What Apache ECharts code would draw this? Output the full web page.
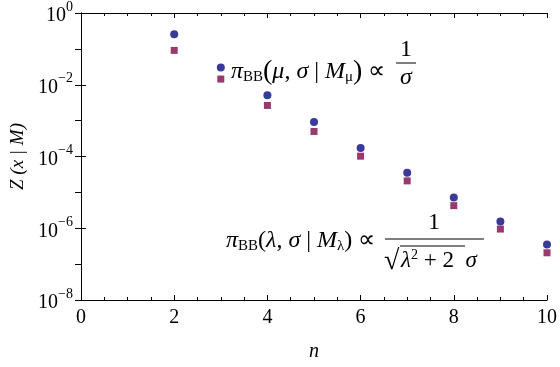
<!DOCTYPE html>
<html><head><meta charset="utf-8">
<script src="https://cdn.jsdelivr.net/npm/echarts@6/dist/echarts.min.js"></script>
<style>html,body{margin:0;padding:0;background:#fff}#c{width:560px;height:367px}</style>
</head><body><div id="c"></div>
<script>
var nValues = [2, 3, 4, 5, 6, 7, 8, 9, 10];
var zMu = [0.255, 0.0301, 0.00509, 9.18e-4, 1.73e-4, 3.54e-5, 7.23e-6, 1.55e-6, 3.51e-7];
var zLambda = [0.0908, 0.0144, 0.00265, 4.99e-4, 1.02e-4, 2.09e-5, 4.27e-6, 9.49e-7, 2.07e-7];
var xTicks = [0, 2, 4, 6, 8, 10];
var yExponents = [0, -2, -4, -6, -8];

var F = 'Liberation Serif';
var chart = echarts.init(document.getElementById('c'));
function pairs(xs, ys){ return xs.map(function(x,i){ return [x, ys[i]]; }); }
function supLabel(v){
  var e = Math.round(Math.log10(v));
  if (yExponents.indexOf(e) < 0) return '';
  return '{b|10}{s|' + (e < 0 ? '\u2212' + (-e) : e) + '}';
}
var axisLine = {show:true, lineStyle:{color:'#000', width:1}};
var rich = {
  b:{fontFamily:F, fontSize:20, color:'#000', lineHeight:26, verticalAlign:'bottom'},
  s:{fontFamily:F, fontSize:14, color:'#000', lineHeight:26, verticalAlign:'top'}
};
var FS = 24;
var mainRich = {
  i:{fontFamily:F, fontSize:FS, fontStyle:'italic', color:'#000'},
  n:{fontFamily:F, fontSize:FS, color:'#000'},
  p:{fontFamily:F, fontSize:FS+4, color:'#000'},
  sub:{fontFamily:F, fontSize:15, color:'#000', padding:[11,0,0,0]}
};
chart.setOption({
  animation:false,
  backgroundColor:'#fff',
  grid:{left:77, right:12, top:12, bottom:64},
  xAxis:[{
    type:'value', min:0, max:10, interval:2, position:'bottom',
    axisLine:axisLine,
    axisTick:{show:true, inside:true, length:5, lineStyle:{color:'#000'}},
    minorTick:{show:true, splitNumber:4, length:3, lineStyle:{color:'#000'}},
    splitLine:{show:false},
    axisLabel:{fontFamily:F, fontSize:20, color:'#000', margin:8,
      formatter:function(v){ return xTicks.indexOf(v) >= 0 ? String(v) : ''; }},
    name:'n', nameLocation:'middle', nameGap:42,
    nameTextStyle:{fontFamily:F, fontSize:20, fontStyle:'italic', color:'#000'}
  },{
    type:'value', min:0, max:10, interval:2, position:'top',
    axisLine:axisLine,
    axisTick:{show:true, inside:true, length:5, lineStyle:{color:'#000'}},
    minorTick:{show:true, splitNumber:4, length:3, lineStyle:{color:'#000'}},
    splitLine:{show:false}, axisLabel:{show:false}
  }],
  yAxis:[{
    type:'log', logBase:10, min:1e-8, max:1, interval:2, position:'left',
    axisLine:axisLine,
    axisTick:{show:true, inside:true, length:5, lineStyle:{color:'#000'}},
    splitLine:{show:false},
    axisLabel:{formatter:supLabel, rich:rich, margin:8},
    name:'Z (x | M)', nameLocation:'middle', nameGap:54, nameRotate:90,
    nameTextStyle:{fontFamily:F, fontSize:19, fontStyle:'italic', color:'#000'}
  },{
    type:'log', logBase:10, min:1e-8, max:1, interval:1, position:'right',
    axisLine:axisLine,
    axisTick:{show:true, inside:true, length:6, lineStyle:{color:'#000'}},
    splitLine:{show:false}, axisLabel:{show:false}
  }],
  series:[{
    type:'scatter', xAxisIndex:0, yAxisIndex:0, symbol:'circle', symbolSize:8,
    itemStyle:{color:'#3a3a9a', opacity:1}, data:pairs(nValues, zMu), z:3
  },{
    type:'scatter', xAxisIndex:0, yAxisIndex:0, symbol:'rect', symbolSize:7,
    itemStyle:{color:'#993a6e', opacity:1}, data:pairs(nValues, zLambda), z:2
  }],
  graphic:[
    {type:'text', x:231, y:72, style:{
      text:'{i|π}{sub|BB}{p|(}{i|μ}{n|, }{i|σ}{n| | }{i|M}{sub|μ}{p|)}{n| ∝}', rich:mainRich, verticalAlign:'middle'}},
    {type:'text', x:406, y:50, style:{text:'1', fontFamily:F, fontSize:FS, fill:'#000', align:'center', verticalAlign:'middle'}},
    {type:'line', shape:{x1:396, y1:63, x2:416, y2:63}, style:{stroke:'#000', lineWidth:1}},
    {type:'text', x:406, y:78, style:{text:'σ', fontFamily:F, fontSize:FS, fontStyle:'italic', fill:'#000', align:'center', verticalAlign:'middle'}},

    {type:'text', x:226, y:241, style:{
      text:'{i|π}{sub|BB}{n|(}{i|λ}{n|, }{i|σ}{n| | }{i|M}{sub|λ}{n|) ∝}', rich:mainRich, verticalAlign:'middle'}},
    {type:'text', x:434, y:223, style:{text:'1', fontFamily:F, fontSize:FS, fill:'#000', align:'center', verticalAlign:'middle'}},
    {type:'line', shape:{x1:385, y1:239, x2:484, y2:239}, style:{stroke:'#000', lineWidth:1}},
    {type:'text', x:384, y:262, style:{text:'√', fontFamily:F, fontSize:28, fill:'#000', verticalAlign:'middle'}},
    {type:'line', shape:{x1:400, y1:246, x2:465, y2:246}, style:{stroke:'#000', lineWidth:1}},
    {type:'text', x:401, y:261, style:{
      text:'{i|λ}{sp|2}{n| + 2  }{i|σ}', rich:{
        i:{fontFamily:F, fontSize:FS-1, fontStyle:'italic', color:'#000'},
        n:{fontFamily:F, fontSize:FS-1, color:'#000'},
        sp:{fontFamily:F, fontSize:14, color:'#000', padding:[0,0,12,0]}
      }, verticalAlign:'middle'}}
  ]
});
</script></body></html>
